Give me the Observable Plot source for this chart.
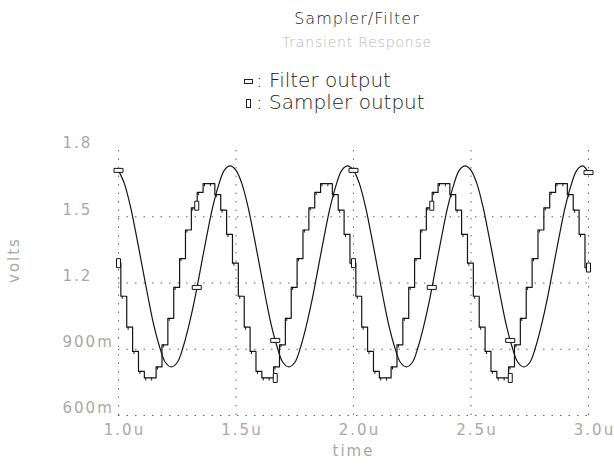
<!DOCTYPE html>
<html>
<head>
<meta charset="utf-8">
<script src="https://cdn.jsdelivr.net/npm/d3@7"></script>
<script src="https://cdn.jsdelivr.net/npm/@observablehq/plot@0.6"></script>
<style>
  body { margin: 0; background: #fff; }
  #wrap { position: relative; width: 614px; height: 465px; font-family: "DejaVu Sans", sans-serif; color: #111; overflow: hidden; }
  .ctr { position: absolute; transform: translateX(-50%); white-space: nowrap; }
  #title { left: 357px; top: 9px; font-size: 16px; letter-spacing: 1px; font-weight: 300; color: #222; }
  #subtitle { left: 357px; top: 34px; font-size: 14px; letter-spacing: 0.8px; color: #b8b8b8; font-weight: 300; }
  #legend { position: absolute; left: 244px; top: 69px; font-size: 20px; line-height: 22px; font-weight: 300; white-space: nowrap; color: #222; }
  .sw { display: inline-block; border: 1px solid #222; vertical-align: middle; margin-right: 3px; }
  .swf { width: 7px; height: 3px; }
  .sws { width: 3px; height: 7px; margin-left: 2px; margin-right: 5px; }
  #chart { position: absolute; left: 0; top: 115px; }
  #chart svg text { letter-spacing: 2px; }
</style>
</head>
<body>
<div id="wrap">
  <div id="title" class="ctr">Sampler/Filter</div>
  <div id="subtitle" class="ctr">Transient Response</div>
  <div id="legend">
    <div><span class="sw swf"></span>: Filter output</div>
    <div><span class="sw sws"></span>: Sampler output</div>
  </div>
  <div id="chart"></div>
</div>
<script>
// ---- tick values and labels ----
const xTicks = [1.0, 1.5, 2.0, 2.5, 3.0];
const xTickLabels = ["1.0u", "1.5u", "2.0u", "2.5u", "3.0u"];
const yTicks = [0.6, 0.9, 1.2, 1.5, 1.8];
const yTickLabels = ["600m", "900m", "1.2", "1.5", "1.8"];

// ---- Filter output (smooth), time in µs, volts ----
const filterT = [
  1.000,1.025,1.050,1.075,1.100,1.125,1.150,1.175,1.200,1.225,1.250,1.275,1.300,1.325,1.350,1.375,1.400,1.425,1.450,1.475,
  1.500,1.525,1.550,1.575,1.600,1.625,1.650,1.675,1.700,1.725,1.750,1.775,1.800,1.825,1.850,1.875,1.900,1.925,1.950,1.975,
  2.000,2.025,2.050,2.075,2.100,2.125,2.150,2.175,2.200,2.225,2.250,2.275,2.300,2.325,2.350,2.375,2.400,2.425,2.450,2.475,
  2.500,2.525,2.550,2.575,2.600,2.625,2.650,2.675,2.700,2.725,2.750,2.775,2.800,2.825,2.850,2.875,2.900,2.925,2.950,2.975,
  3.000
];
const filterV = [
  1.71,1.65,1.55,1.42,1.28,1.14,1.01,0.91,0.84,0.82,0.84,0.91,1.01,1.13,1.27,1.41,1.54,1.64,1.71,1.73,
  1.71,1.65,1.55,1.42,1.28,1.14,1.01,0.91,0.84,0.82,0.84,0.91,1.01,1.13,1.27,1.41,1.54,1.64,1.71,1.73,
  1.71,1.65,1.55,1.42,1.28,1.14,1.01,0.91,0.84,0.82,0.84,0.91,1.01,1.13,1.27,1.41,1.54,1.64,1.71,1.73,
  1.71,1.65,1.55,1.42,1.28,1.14,1.01,0.91,0.84,0.82,0.84,0.91,1.01,1.13,1.27,1.41,1.54,1.64,1.71,1.73,
  1.70
];

// ---- Sampler output (sample & hold staircase): step start times and held values ----
const samplerT = [
  1.000,1.010,1.035,1.060,1.085,1.110,1.135,1.160,1.185,1.210,1.235,1.260,1.285,1.310,1.335,1.360,1.385,1.410,1.435,1.460,
  1.485,1.510,1.535,1.560,1.585,1.610,1.635,1.660,1.685,1.710,1.735,1.760,1.785,1.810,1.835,1.860,1.885,1.910,1.935,1.960,
  1.985,2.010,2.035,2.060,2.085,2.110,2.135,2.160,2.185,2.210,2.235,2.260,2.285,2.310,2.335,2.360,2.385,2.410,2.435,2.460,
  2.485,2.510,2.535,2.560,2.585,2.610,2.635,2.660,2.685,2.710,2.735,2.760,2.785,2.810,2.835,2.860,2.885,2.910,2.935,2.960,
  2.985,3.000
];
const samplerV = [
  1.29,1.14,1.00,0.89,0.80,0.77,0.77,0.82,0.92,1.04,1.18,1.31,1.44,1.54,1.61,1.65,1.65,1.60,1.53,1.42,
  1.29,1.14,1.00,0.89,0.80,0.77,0.77,0.82,0.92,1.04,1.18,1.31,1.44,1.54,1.61,1.65,1.65,1.60,1.53,1.42,
  1.29,1.14,1.00,0.89,0.80,0.77,0.77,0.82,0.92,1.04,1.18,1.31,1.44,1.54,1.61,1.65,1.65,1.60,1.53,1.42,
  1.29,1.14,1.00,0.89,0.80,0.77,0.77,0.82,0.92,1.04,1.18,1.31,1.44,1.54,1.61,1.65,1.65,1.60,1.53,1.42,
  1.27,1.27
];

// ---- marker positions ----
const markerT = [1.0, 1.333, 1.667, 2.0, 2.333, 2.667, 3.0];
const filterMarkV = [1.71, 1.18, 0.94, 1.71, 1.18, 0.94, 1.70];
const samplerMarkV = [1.29, 1.55, 0.77, 1.29, 1.55, 0.77, 1.27];

// ---- build tables ----
const filter = filterT.map((t, i) => ({t, v: filterV[i]}));
const sampler = samplerT.map((t, i) => ({t, v: samplerV[i]}));
const glitches = samplerT.slice(1, -1).map((t, i) => ({t: t + 0.006, v: samplerV[i + 1], v2: samplerV[i + 1] - 0.014}));
const fMarks = markerT.map((t, i) => ({t, v: filterMarkV[i]}));
const sMarks = markerT.map((t, i) => ({t, v: samplerMarkV[i]}));

const xLab = new Map(xTicks.map((d, i) => [d, xTickLabels[i]]));
const yLab = new Map(yTicks.map((d, i) => [d, yTickLabels[i]]));

const rectH = {draw(ctx) { ctx.rect(-4.5, -2, 9, 4); }};
const rectV = {draw(ctx) { ctx.rect(-2, -4.5, 4, 9); }};

const ink = "#151515";
const faint = "#a8a8a8";

const chart = Plot.plot({
  width: 614,
  height: 350,
  marginTop: 35,
  marginBottom: 50,
  marginLeft: 118,
  marginRight: 26,
  x: {domain: [1, 3], axis: null},
  y: {domain: [0.6, 1.8], axis: null},
  style: {fontFamily: "DejaVu Sans, sans-serif", background: "white", overflow: "visible"},
  marks: [
    Plot.gridX(xTicks, {stroke: "#666", strokeOpacity: 1, strokeDasharray: "1.5,7"}),
    Plot.gridY(yTicks.filter(d => d < 1.8), {stroke: "#666", strokeOpacity: 1, strokeDasharray: "1.5,7"}),
    Plot.axisX({ticks: xTicks, tickFormat: d => xLab.get(d), tickSize: 0, tickPadding: 9, dx: 6,
      fontSize: 15, fill: faint, label: null}),
    Plot.text(yTicks, {x: () => xTicks[0], y: d => d, text: d => yLab.get(d), textAnchor: "start",
      dx: -56, dy: -7, fontSize: 15, fill: faint}),
    Plot.text(["time"], {frameAnchor: "bottom", dy: 40, fontSize: 15, fill: faint, text: d => d}),
    Plot.text(["volts"], {frameAnchor: "left", dx: -104, rotate: -90, fontSize: 15, fill: faint, text: d => d}),
    Plot.line(filter, {x: "t", y: "v", curve: "catmull-rom", stroke: ink, strokeWidth: 1.2}),
    Plot.line(sampler, {x: "t", y: "v", curve: "step-after", stroke: ink, strokeWidth: 1.2}),
    Plot.ruleX(glitches, {x: "t", y1: "v", y2: "v2", stroke: ink, strokeWidth: 1}),
    Plot.dot(fMarks, {x: "t", y: "v", symbol: rectH, r: 4, fill: "white", stroke: ink, strokeWidth: 1}),
    Plot.dot(sMarks, {x: "t", y: "v", symbol: rectV, r: 4, fill: "white", stroke: ink, strokeWidth: 1})
  ]
});
document.getElementById("chart").appendChild(chart);
</script>
</body>
</html>
